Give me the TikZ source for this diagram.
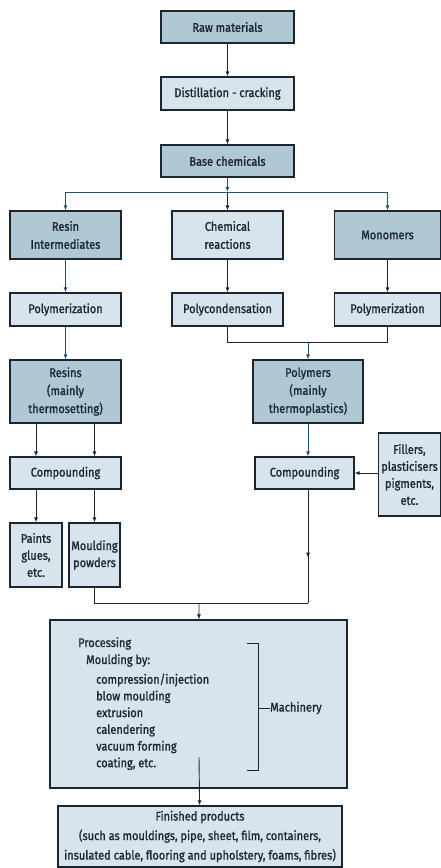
\documentclass[tikz,border=0pt]{standalone}
\usepackage{fontspec}
\setmainfont{Fira Sans}[FakeStretch=0.88, FakeBold=1.2]
\usetikzlibrary{positioning,calc,arrows.meta,decorations.markings}

\definecolor{boxdark}{RGB}{176,199,212}
\definecolor{boxlight}{RGB}{216,228,235}
\definecolor{edge}{RGB}{28,38,50}
\definecolor{flowblue}{RGB}{38,82,112}

\begin{document}
\begin{tikzpicture}[x=1pt, y=-1pt, >={Latex[length=5pt,width=4pt]},
		stage/.style={shape=rectangle, draw=edge, line width=1.2pt, align=center, inner sep=2pt, font=\fontsize{12.5}{18}\selectfont, text=edge},
		darkbox/.style={stage, fill=boxdark},
		lightbox/.style={stage, fill=boxlight},
		flow/.style={draw=edge, line width=0.9pt},
		blueflow/.style={draw=flowblue, line width=0.9pt},
		listtext/.style={anchor=base west, inner sep=0pt, font=\fontsize{12.5}{17}\selectfont, text=edge}]
		\useasboundingbox (0, 0) rectangle (441, 868);

		% top chain
		\node[darkbox, minimum width=133pt, minimum height=32pt] (raw) at (227.5, 27) {Raw materials};
		\node[lightbox, minimum width=133pt, minimum height=33pt] (dist) at (227.5, 93.5) {Distillation - cracking};
		\node[darkbox, minimum width=133pt, minimum height=32pt] (base) at (227.5, 161) {Base chemicals};
		\coordinate (split) at (227.5, 192);

		% three branches
		\node[darkbox, minimum width=111pt, minimum height=48pt] (resint) at (65.5, 235) {Resin\\Intermediates};
		\node[lightbox, minimum width=111pt, minimum height=48pt] (chem) at (227.5, 235) {Chemical\\reactions};
		\node[darkbox, minimum width=106pt, minimum height=48pt] (mono) at (387.5, 235) {Monomers};
		\node[lightbox, minimum width=111pt, minimum height=33pt] (polyl) at (65.5, 309.5) {Polymerization};
		\node[lightbox, minimum width=111pt, minimum height=33pt] (polyc) at (227.5, 309.5) {Polycondensation};
		\node[lightbox, minimum width=106pt, minimum height=33pt] (polyr) at (387.5, 309.5) {Polymerization};
		\coordinate (join) at (308, 342);

		\node[darkbox, minimum width=111pt, minimum height=63pt] (resins) at (65.5, 391.5) {Resins\\(mainly\\thermosetting)};
		\node[darkbox, minimum width=110pt, minimum height=63pt] (polymers) at (308, 391.5) {Polymers\\(mainly\\thermoplastics)};

		\node[lightbox, minimum width=111pt, minimum height=32pt] (compl) at (65.5, 473) {Compounding};
		\node[lightbox, minimum width=99pt, minimum height=32pt] (compr) at (304.5, 473) {Compounding};
		\node[lightbox, minimum width=62pt, minimum height=83pt, inner sep=0pt, font=\fontsize{12.5}{17}\selectfont] (fillers) at (409.5, 474.5) {Fillers,\\plasticisers\\pigments,\\etc.};

		\node[lightbox, minimum width=52pt, minimum height=64pt, inner sep=0pt, font=\fontsize{12.5}{17}\selectfont] (paints) at (36, 555) {Paints\\glues,\\etc.};
		\node[lightbox, minimum width=51pt, minimum height=64pt, inner sep=0pt, font=\fontsize{12.5}{17}\selectfont] (mpowder) at (94.5, 555) {Moulding\\powders};
		\coordinate (merge) at (199, 603);

		% processing
		\node[lightbox, minimum width=297pt, minimum height=168pt] (proc) at (198.5, 704) {};
		\node[listtext] (proctitle) at (78, 647) {Processing};
		\node[listtext] (mouldby) at (86, 664) {Moulding by:};
		\foreach \t [count=\i] in {compression/injection, blow moulding, extrusion, calendering, vacuum forming, {coating, etc.}}
			\node[listtext] (item\i) at (96, 667 + 16.7*\i) {\t};
		\node[listtext, anchor=west] (machinery) at (270, 708) {Machinery};
		\coordinate (procout) at (199, 757);

		\node[lightbox, minimum width=284pt, minimum height=61pt, inner sep=0pt, font=\fontsize{12.5}{19.5}\selectfont] (fin) at (200, 836.5) {Finished products\\(such as mouldings, pipe, sheet, film, containers,\\insulated cable, flooring and upholstery, foams, fibres)};

		% connectors
		\draw[flow, ->] (raw) -- (dist);
		\draw[flow, ->] (dist) -- (base);
		\draw[blueflow, ->] (base) -- (split);
		\draw[blueflow, ->] (split) -| (resint);
		\draw[blueflow, ->] (split) -| (mono);
		\draw[flow, ->] (split) -- (chem);

		\draw[blueflow, ->] (resint) -- (polyl);
		\draw[flow, ->] (chem) -- (polyc);
		\draw[flow, ->] (mono) -- (polyr);
		\draw[blueflow, ->] (polyl) -- (resins);
		\draw[flow] (polyc) |- (join);
		\draw[flow] (polyr) |- (join);
		\draw[blueflow, ->] (join) -- (polymers);

		\draw[flow, ->] (resins.south -| paints) -- (compl.north -| paints);
		\draw[flow, ->] (resins.south -| mpowder) -- (compl.north -| mpowder);
		\draw[flow, ->] (compl.south -| paints) -- (paints);
		\draw[flow, ->] (compl.south -| mpowder) -- (mpowder);
		\draw[blueflow, ->] (polymers) -- (polymers |- compr.north);
		\draw[flow, ->] (fillers.west |- compr) -- (compr);

		\draw[flow, postaction={decorate}, decoration={markings, mark=at position 0.6 with {\arrow{Latex[length=5pt,width=4pt]}}}]
			(compr.south -| polymers) -- (polymers |- merge);
		\draw[flow] (mpowder) |- (polymers |- merge);
		\draw[flow, ->] (merge) -- (proc);

		% bracket to machinery
		\draw[flow] (247, 643) -- (258, 643) -- (258, 770) -- (247, 770);
		\draw[flow] (258, 708) -- (machinery);
		\draw[flow, ->] (procout) -- (fin);
	\end{tikzpicture}
\end{document}
